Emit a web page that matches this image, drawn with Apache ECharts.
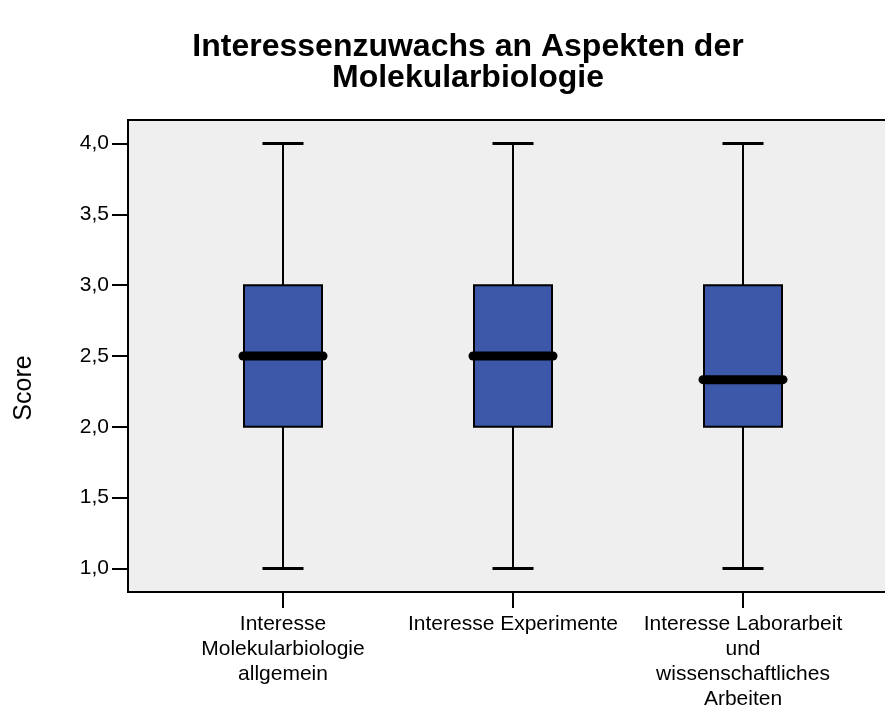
<!DOCTYPE html>
<html>
<head>
<meta charset="utf-8">
<script src="https://cdn.jsdelivr.net/npm/echarts@6/dist/echarts.min.js"></script>
<style>html,body{margin:0;padding:0;background:#fff;}#c{width:885px;height:709px;}</style>
</head>
<body>
<div id="c"></div>
<script>
const titleText = 'Interessenzuwachs an Aspekten der\nMolekularbiologie';
const yTitle = 'Score';
const categories = ['Interesse\nMolekularbiologie\nallgemein', 'Interesse Experimente', 'Interesse Laborarbeit\nund\nwissenschaftliches\nArbeiten'];
const whiskerLow = [1.0, 1.0, 1.0];
const q1 = [2.0, 2.0, 2.0];
const medians = [2.5, 2.5, 2.333];
const q3 = [3.0, 3.0, 3.0];
const whiskerHigh = [4.0, 4.0, 4.0];
const yTicks = [1.0, 1.5, 2.0, 2.5, 3.0, 3.5, 4.0];

const Y_MIN = 0.8333, Y_MAX = 4.1667;
const FONT = '"Liberation Sans", Arial, sans-serif';

const data = categories.map((c, i) => [i, whiskerLow[i], q1[i], medians[i], q3[i], whiskerHigh[i]]);

function renderItem(params, api) {
  const i = api.value(0);
  const pLow = api.coord([i, api.value(1)]);
  const pQ1 = api.coord([i, api.value(2)]);
  const pMed = api.coord([i, api.value(3)]);
  const pQ3 = api.coord([i, api.value(4)]);
  const pHigh = api.coord([i, api.value(5)]);
  const x = pLow[0];
  const boxW = 78, capW = 41, medW = 80;
  return {
    type: 'group',
    children: [
      { type: 'line', shape: { x1: x, y1: pHigh[1], x2: x, y2: pQ3[1] }, style: { stroke: '#000', lineWidth: 2 } },
      { type: 'line', shape: { x1: x, y1: pQ1[1], x2: x, y2: pLow[1] }, style: { stroke: '#000', lineWidth: 2 } },
      { type: 'line', shape: { x1: x - capW / 2, y1: pHigh[1], x2: x + capW / 2, y2: pHigh[1] }, style: { stroke: '#000', lineWidth: 3 } },
      { type: 'line', shape: { x1: x - capW / 2, y1: pLow[1], x2: x + capW / 2, y2: pLow[1] }, style: { stroke: '#000', lineWidth: 3 } },
      { type: 'rect', shape: { x: x - boxW / 2, y: pQ3[1], width: boxW, height: pQ1[1] - pQ3[1] }, style: { fill: '#3d57a9', stroke: '#000', lineWidth: 2 } },
      { type: 'line', shape: { x1: x - medW / 2, y1: pMed[1], x2: x + medW / 2, y2: pMed[1] }, style: { stroke: '#000', lineWidth: 9, lineCap: 'round' } }
    ]
  };
}

const chart = echarts.init(document.getElementById('c'), null, { renderer: 'canvas' });
chart.setOption({
  animation: false,
  backgroundColor: '#ffffff',
  title: {
    text: titleText,
    left: 463,
    textAlign: 'center',
    top: 27,
    textStyle: { fontFamily: FONT, fontWeight: 'bold', fontSize: 32, lineHeight: 31, color: '#000' }
  },
  graphic: [
    { type: 'text', x: 24, y: 388, rotation: Math.PI / 2, style: { text: yTitle, fontFamily: FONT, fontSize: 25, fill: '#000', align: 'center', verticalAlign: 'middle' } }
  ],
  grid: [
    { left: 128, right: -15, top: 120, bottom: 117, containLabel: false, outerBoundsMode: 'none', show: true, backgroundColor: '#efefef', borderColor: '#000', borderWidth: 2 },
    { left: 168, right: 27, top: 120, bottom: 117, containLabel: false, outerBoundsMode: 'none' }
  ],
  xAxis: [
    { type: 'value', gridIndex: 0, min: 0, max: 1, axisLine: { show: true, lineStyle: { color: '#000', width: 2 } }, axisTick: { show: false }, axisLabel: { show: false }, splitLine: { show: false } },
    {
      type: 'category', gridIndex: 1, data: categories, boundaryGap: true,
      axisLine: { show: false },
      axisTick: { show: true, alignWithLabel: true, length: 16, lineStyle: { color: '#000', width: 2 } },
      axisLabel: { show: true, interval: 0, margin: 20, color: '#000', fontFamily: FONT, fontSize: 21, lineHeight: 25, align: 'center' },
      splitLine: { show: false }
    }
  ],
  yAxis: [
    {
      type: 'value', gridIndex: 0, min: Y_MIN, max: Y_MAX,
      axisLine: { show: true, lineStyle: { color: '#000', width: 2 } },
      axisTick: { show: true, length: 16, customValues: yTicks, lineStyle: { color: '#000', width: 2 } },
      axisLabel: { show: true, customValues: yTicks, margin: 19, color: '#000', fontFamily: FONT, fontSize: 21, formatter: v => v.toFixed(1).replace('.', ',') },
      splitLine: { show: false }
    },
    { type: 'value', gridIndex: 1, min: Y_MIN, max: Y_MAX, show: false }
  ],
  series: [
    { type: 'custom', xAxisIndex: 1, yAxisIndex: 1, data: data, renderItem: renderItem, clip: false }
  ]
});
</script>
</body>
</html>
